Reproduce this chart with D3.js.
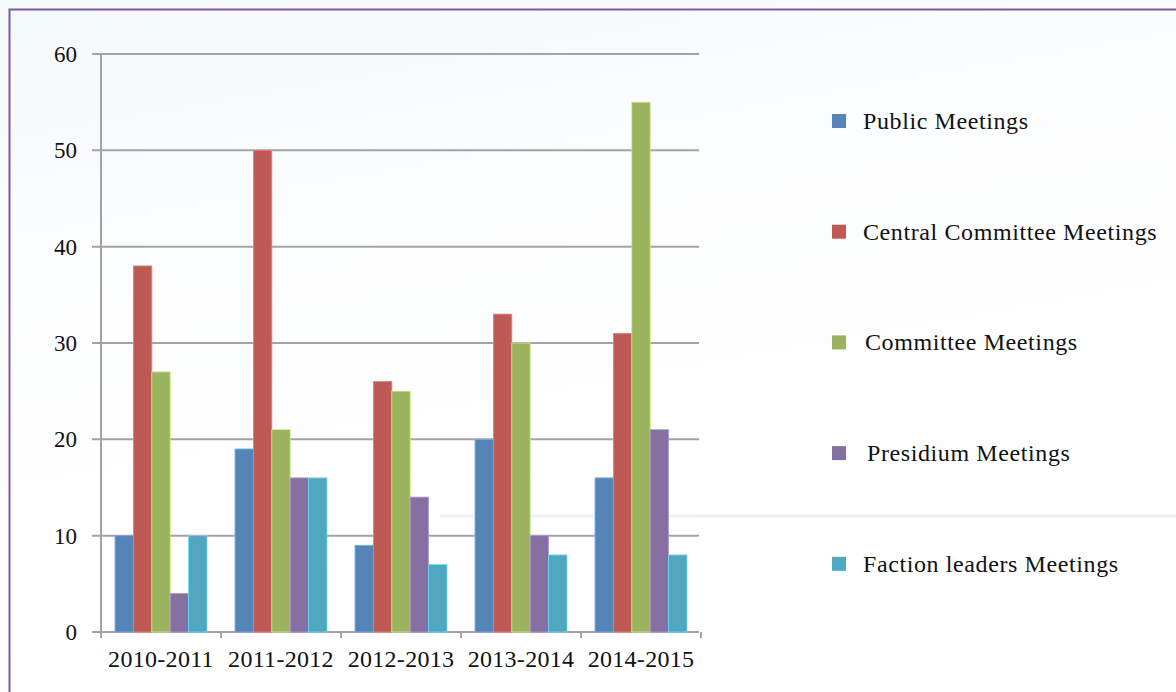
<!DOCTYPE html>
<html>
<head>
<meta charset="utf-8">
<script src="https://cdn.jsdelivr.net/npm/d3@7"></script>
<style>
  html, body { margin: 0; padding: 0; background: #fff; }
  svg { display: block; }
</style>
</head>
<body>
<div id="chart"></div>
<script>
const width = 1176, height = 692;

const categories = ["2010-2011", "2011-2012", "2012-2013", "2013-2014", "2014-2015"];
const series = ["Public Meetings", "Central Committee Meetings", "Committee Meetings", "Presidium Meetings", "Faction leaders Meetings"];
const colors = ["#5585b8", "#bd5a54", "#9bb35e", "#8670a2", "#4fa8c0"];
const values = [
  [10, 19, 9, 20, 16],   // Public
  [38, 50, 26, 33, 31],  // Central Committee
  [27, 21, 25, 30, 55],  // Committee
  [4, 16, 14, 10, 21],   // Presidium
  [10, 16, 7, 8, 8]      // Faction leaders
];
const yTicks = [0, 10, 20, 30, 40, 50, 60];

const svg = d3.select("#chart").append("svg")
  .attr("width", width)
  .attr("height", height);

// soft background
const defs = svg.append("defs");
const bg = defs.append("linearGradient").attr("id", "bg")
  .attr("x1", "0").attr("y1", "0").attr("x2", "0.3").attr("y2", "1");
bg.append("stop").attr("offset", "0").attr("stop-color", "#f3f8fb");
bg.append("stop").attr("offset", "0.35").attr("stop-color", "#fcfdfe");
bg.append("stop").attr("offset", "1").attr("stop-color", "#ffffff");
svg.append("rect").attr("width", width).attr("height", height).attr("fill", "url(#bg)");

// faint streak in the backdrop
svg.append("line")
  .attr("x1", 440).attr("x2", width)
  .attr("y1", 516).attr("y2", 516)
  .attr("stroke", "#eef1f4").attr("stroke-width", 3);

// frame
svg.append("path")
  .attr("d", `M${width},9.5 H9.5 V${height}`)
  .attr("fill", "none")
  .attr("stroke", "#7b5c94")
  .attr("stroke-width", 2);

const x0 = d3.scaleBand().domain(categories).range([101, 701]);
const x1 = d3.scaleBand().domain(series).range([14, x0.bandwidth() - 14]);
const y = d3.scaleLinear().domain([0, 60]).range([632, 54]);

// gridlines
svg.append("g")
  .selectAll("line")
  .data(yTicks)
  .enter().append("line")
  .attr("x1", 92).attr("x2", 699)
  .attr("y1", d => y(d)).attr("y2", d => y(d))
  .attr("stroke", "#a3a3a3")
  .attr("stroke-width", 2);

// y axis line
svg.append("line")
  .attr("x1", 101).attr("x2", 101)
  .attr("y1", y(60)).attr("y2", y(0))
  .attr("stroke", "#a3a3a3").attr("stroke-width", 2);

// category ticks
svg.append("g")
  .selectAll("line")
  .data(d3.range(categories.length + 1))
  .enter().append("line")
  .attr("x1", i => 101 + i * x0.step()).attr("x2", i => 101 + i * x0.step())
  .attr("y1", y(0)).attr("y2", y(0) + 6)
  .attr("stroke", "#a3a3a3").attr("stroke-width", 2);

const font = "'Liberation Serif', serif";

// y labels
svg.append("g")
  .selectAll("text")
  .data(yTicks)
  .enter().append("text")
  .attr("x", 77)
  .attr("y", d => y(d) + 8)
  .attr("text-anchor", "end")
  .attr("font-family", font)
  .attr("font-size", 23)
  .attr("fill", "#111")
  .text(d => d);

// x labels
svg.append("g")
  .selectAll("text")
  .data(categories)
  .enter().append("text")
  .attr("x", d => x0(d) + x0.bandwidth() / 2)
  .attr("y", 667)
  .attr("text-anchor", "middle")
  .attr("font-family", font)
  .attr("font-size", 24)
  .attr("letter-spacing", 0.3)
  .attr("fill", "#111")
  .text(d => d);

// bars
series.forEach((s, si) => {
  svg.append("g")
    .selectAll("rect")
    .data(categories)
    .enter().append("rect")
    .attr("x", d => x0(d) + x1(s))
    .attr("y", (d, ci) => y(values[si][ci]))
    .attr("width", x1.bandwidth())
    .attr("height", (d, ci) => y(0) - y(values[si][ci]))
    .attr("fill", colors[si])
    .attr("stroke", d3.color(colors[si]).brighter(0.8))
    .attr("stroke-width", 0.8);
});

// legend
const textX = [863, 863, 865, 867, 863];
const legend = svg.append("g")
  .selectAll("g")
  .data(series)
  .enter().append("g")
  .attr("transform", (d, i) => `translate(0,${121 + i * 110.7})`);
legend.append("rect")
  .attr("x", 832).attr("y", -7)
  .attr("width", 14).attr("height", 14)
  .attr("fill", (d, i) => colors[i]);
legend.append("text")
  .attr("x", (d, i) => textX[i]).attr("y", 8)
  .attr("font-family", font)
  .attr("font-size", 24)
  .attr("letter-spacing", 0.6)
  .attr("fill", "#111")
  .text(d => d);
</script>
</body>
</html>
